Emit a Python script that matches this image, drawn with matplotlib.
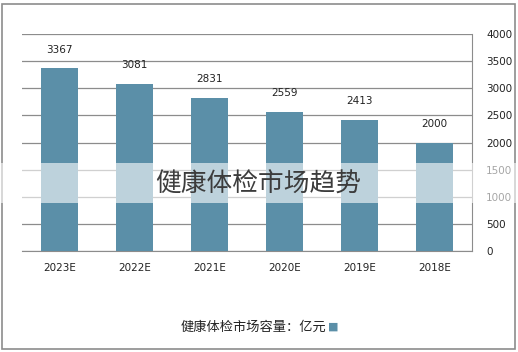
import matplotlib.pyplot as plt
from matplotlib.patches import Rectangle

years = ['2023E', '2022E', '2021E', '2020E', '2019E', '2018E']
market = [3367, 3081, 2831, 2559, 2413, 2000]
yticks = [0, 500, 1000, 1500, 2000, 2500, 3000, 3500, 4000]

bar_color = '#5b8fa8'
grid_color = '#8c8c8c'

plt.rcParams['font.family'] = ['DejaVu Sans', 'Noto Sans CJK SC']

fig = plt.figure(figsize=(5.18, 3.52), dpi=100)
ax = fig.add_axes([0.0425, 0.287, 0.869, 0.616])

x = list(range(len(years)))
bars = ax.bar(x, market, width=0.5, color=bar_color, zorder=3)
for xi, v in zip(x, market):
    ax.annotate(str(v), (xi, v), xytext=(0, 10), textcoords='offset points',
                ha='center', va='bottom', fontsize=7.5, color='#222222')

ax.set_xlim(-0.5, len(years) - 0.5)
ax.set_ylim(0, 4000)
ax.set_yticks(yticks)
ax.yaxis.tick_right()
ax.tick_params(axis='y', length=0, pad=10, labelsize=7.5, labelcolor='#222222')
ax.set_xticks(x)
ax.set_xticklabels(years)
ax.tick_params(axis='x', length=0, pad=9, labelsize=7.5, labelcolor='#222222')
ax.grid(axis='y', color=grid_color, linewidth=0.9, zorder=0)
for s in ['top', 'left']:
    ax.spines[s].set_visible(False)
ax.spines['right'].set_color(grid_color)
ax.spines['bottom'].set_color(grid_color)

# legend drawn mirrored: marker on the right of the text
fig.text(0.6335, 0.071, '■', color=bar_color, fontsize=8, ha='left', va='center',
         family='DejaVu Sans')
fig.text(0.630, 0.071, '健康体检市场容量：亿元', fontsize=9.5, ha='right', va='center',
         family='Noto Sans CJK SC', color='#222222')

# outer border
fig.patches.append(Rectangle((0.004, 0.008), 0.99, 0.982, transform=fig.transFigure,
                             fill=False, edgecolor=grid_color, linewidth=1.2))

# translucent watermark band
fig.patches.append(Rectangle((0.0, 0.423), 1.0, 0.114, transform=fig.transFigure,
                             facecolor='white', alpha=0.6, edgecolor='none', zorder=10))
fig.text(0.498, 0.476, '健康体检市场趋势', fontsize=18.5, ha='center', va='center',
         family='Noto Sans CJK SC', weight='light', color='#3c3c3c', zorder=11)

fig.savefig('out.png', dpi=100)
